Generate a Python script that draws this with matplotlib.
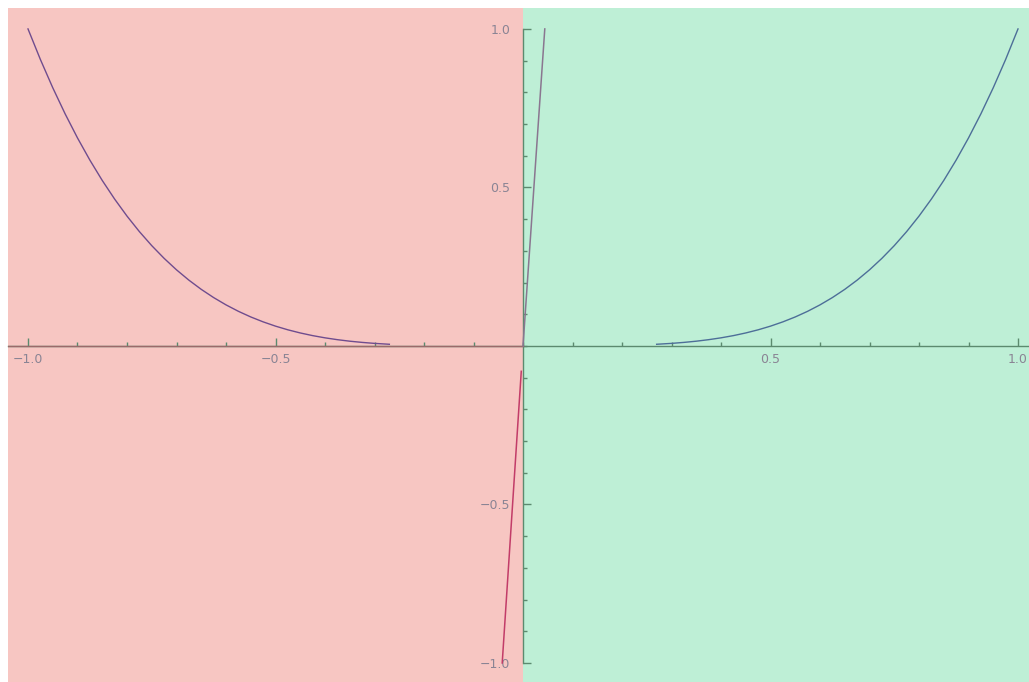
import matplotlib
matplotlib.use("Agg")
import matplotlib.pyplot as plt
from matplotlib.ticker import MultipleLocator, FixedLocator

# data
left_x = [-1.0, -0.975, -0.95, -0.925, -0.9, -0.875, -0.85, -0.825, -0.8, -0.775, -0.75, -0.725, -0.7,
          -0.675, -0.65, -0.625, -0.6, -0.575, -0.55, -0.525, -0.5, -0.475, -0.45, -0.425, -0.4,
          -0.375, -0.35, -0.325, -0.3, -0.27]
left_y = [1.0, 0.9037, 0.8145, 0.7321, 0.6561, 0.5862, 0.5220, 0.4633, 0.4096, 0.3607, 0.3164, 0.2763,
          0.2401, 0.2076, 0.1785, 0.1526, 0.1296, 0.1093, 0.0915, 0.0760, 0.0625, 0.0509, 0.0410,
          0.0326, 0.0256, 0.0198, 0.0150, 0.0112, 0.0081, 0.0053]
right_x = [0.27, 0.3, 0.325, 0.35, 0.375, 0.4, 0.425, 0.45, 0.475, 0.5, 0.525, 0.55, 0.575, 0.6, 0.625,
           0.65, 0.675, 0.7, 0.725, 0.75, 0.775, 0.8, 0.825, 0.85, 0.875, 0.9, 0.925, 0.95, 0.975, 1.0]
right_y = [0.0053, 0.0081, 0.0112, 0.0150, 0.0198, 0.0256, 0.0326, 0.0410, 0.0509, 0.0625, 0.0760,
           0.0915, 0.1093, 0.1296, 0.1526, 0.1785, 0.2076, 0.2401, 0.2763, 0.3164, 0.3607, 0.4096,
           0.4633, 0.5220, 0.5862, 0.6561, 0.7321, 0.8145, 0.9037, 1.0]
steep_up_x = [0.0, 0.044]
steep_up_y = [0.0, 1.0]
steep_dn_x = [-0.0035, -0.042]
steep_dn_y = [-0.08, -1.0]
x_ticks = [-1.0, -0.5, 0.5, 1.0]
x_labels = ["\u22121.0", "\u22120.5", "0.5", "1.0"]
y_ticks = [-1.0, -0.5, 0.5, 1.0]
y_labels = ["\u22121.0", "\u22120.5", "0.5", "1.0"]

W, H = 1029, 682
fig = plt.figure(figsize=(W / 100, H / 100), dpi=100)
ax = fig.add_axes([8 / W, 0, 1 - 8 / W, 1 - 8 / H])

xmin, xmax = -1.0404, 1.0222
ymin, ymax = -1.06, 1.066
ax.set_xlim(xmin, xmax)
ax.set_ylim(ymin, ymax)

red_bg = "#F7C6C2"
green_bg = "#BEEFD6"
ax.axvspan(xmin, 0, color=red_bg, lw=0, zorder=0)
ax.axvspan(0, xmax, color=green_bg, lw=0, zorder=0)

ax.plot(left_x, left_y, color="#6F4C8E", lw=1.0, zorder=3)
ax.plot(right_x, right_y, color="#4D6E98", lw=1.0, zorder=3)
ax.plot(steep_up_x, steep_up_y, color="#8A7690", lw=1.1, zorder=3)
ax.plot(steep_dn_x, steep_dn_y, color="#C23C68", lw=1.1, zorder=3)

green_ax = "#5C8A6F"
brown_ax = "#9A6A6A"
for s in ["top", "right"]:
    ax.spines[s].set_visible(False)
ax.spines["bottom"].set_position(("data", 0))
ax.spines["left"].set_position(("data", 0))
ax.spines["left"].set_bounds(-1.0, 1.0)
ax.spines["bottom"].set_color(green_ax)
ax.spines["left"].set_color(green_ax)
ax.spines["bottom"].set_linewidth(1.0)
ax.spines["left"].set_linewidth(1.0)
ax.spines["bottom"].set_zorder(2)
ax.spines["left"].set_zorder(2)
frac0 = (0 - xmin) / (xmax - xmin)
ax.axhline(0, xmin=0, xmax=frac0, color=brown_ax, lw=1.0, zorder=2.5)

ax.xaxis.set_major_locator(FixedLocator(x_ticks))
ax.yaxis.set_major_locator(FixedLocator(y_ticks))
ax.xaxis.set_minor_locator(MultipleLocator(0.1))
ax.yaxis.set_minor_locator(MultipleLocator(0.1))
ax.set_xticklabels(x_labels)
ax.set_yticklabels(y_labels)

ax.tick_params(axis="x", which="major", direction="in", length=6, width=1.0, color=green_ax,
               labelsize=9, labelcolor="#8A8494", pad=5)
ax.tick_params(axis="x", which="minor", direction="in", length=3, width=1.0, color=green_ax)
ax.tick_params(axis="y", which="major", direction="in", length=6, width=1.0, color=green_ax,
               labelsize=9, labelcolor="#8A8494", pad=9)
ax.tick_params(axis="y", which="minor", direction="in", length=3, width=1.0, color=green_ax)

fig.canvas.draw()
for t in ax.xaxis.get_major_ticks() + ax.xaxis.get_minor_ticks():
    if t.get_loc() < 0:
        t.tick1line.set_color(brown_ax)

ax.set_facecolor("white")
fig.savefig("out.png", dpi=100)
